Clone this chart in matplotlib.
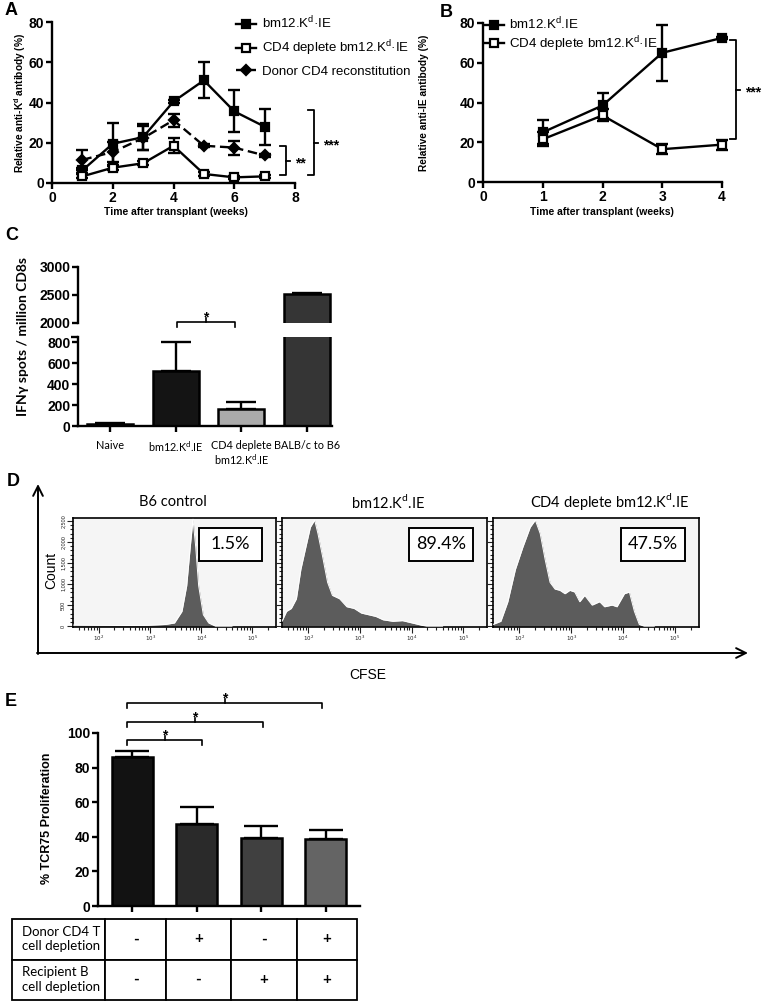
import matplotlib
matplotlib.use("Agg")
import matplotlib.pyplot as plt
from matplotlib.patches import Rectangle
from matplotlib.table import Table

plt.rcParams['font.family'] = ['Liberation Sans', 'DejaVu Sans']
plt.rcParams['axes.unicode_minus'] = False

W, H = 766, 1002
CAL = ['Lato', 'DejaVu Sans']      # stand-in for Calibri
KD = 'K$^\\mathregular{d}$'

# --- A: anti-Kd antibody over time ---
weeks_a = [1, 2, 3, 4, 5, 6, 7]
a_bm12 = [6.3, 19.5, 22.8, 40.5, 51.0, 35.6, 28.0]
a_bm12_err = [1.2, 10.5, 6.3, 0.8, 9.0, 10.5, 9.0]
a_cd4 = [3.3, 7.6, 9.8, 18.5, 4.5, 2.8, 3.3]
a_cd4_err = [1.0, 1.0, 1.0, 3.8, 0.8, 0.8, 0.8]
a_donor = [11.5, 15.4, 22.3, 31.2, 18.5, 17.6, 13.7]
a_donor_err = [5.0, 5.0, 6.0, 3.3, 0.8, 3.5, 0.8]

# --- B: anti-IE antibody over time ---
weeks_b = [1, 2, 3, 4]
b_bm12 = [25.0, 38.5, 65.0, 72.5]
b_bm12_err = [6.0, 6.5, 14.0, 0.5]
b_cd4 = [21.5, 33.5, 16.5, 18.8]
b_cd4_err = [3.5, 3.0, 2.5, 2.5]

# --- C: IFNg ELISpot ---
c_groups = ['Naive', f'bm12.{KD}.IE', f'CD4 deplete\nbm12.{KD}.IE', 'BALB/c to B6']
c_spots = [20, 530, 165, 2515]
c_err = [5, 270, 65, 15]
c_colors = ['#141414', '#141414', '#ababab', '#353535']

# --- D: CFSE histograms ---
d_titles = ['B6 control', f'bm12.{KD}.IE', f'CD4 deplete bm12.{KD}.IE']
d_percent = ['1.5%', '89.4%', '47.5%']
d1_cfse = [32, 100, 300, 900, 2000, 3000, 4200, 5200, 6100, 6900, 7800, 8900, 11000, 14000, 19000, 40000]
d1_count = [25, 20, 15, 20, 40, 75, 350, 960, 1880, 2540, 1880, 960, 270, 75, 0, 0]
d2_cfse = [31, 38, 47, 59, 72, 90, 110, 133, 154, 190, 237, 294, 405, 560, 775, 1070,
           1480, 2040, 2820, 4350, 6700, 10300, 15900, 19800, 40000]
d2_count = [115, 350, 420, 650, 1350, 1880, 2350, 2520, 2200, 1650, 1040, 730, 650, 460, 420, 310,
            270, 230, 150, 115, 130, 75, 20, 0, 0]
d3_cfse = [31, 44, 60, 84, 117, 162, 203, 252, 314, 390, 487, 606, 757, 940, 1170, 1460,
           1820, 2530, 3530, 4390, 6120, 7620, 10600, 13200, 16500, 20500, 25500, 40000]
d3_count = [40, 115, 580, 1350, 1880, 2350, 2520, 2200, 1580, 1040, 880, 850, 770, 850, 810, 580,
            730, 500, 580, 460, 500, 460, 770, 810, 350, 40, 0, 0]

# --- E: TCR75 proliferation ---
e_prolif = [86.0, 47.5, 39.5, 38.5]
e_err = [3.5, 9.5, 7.0, 5.5]
e_colors = ['#121212', '#2a2a2a', '#404040', '#646464']
e_rows = ['Donor CD4 T\ncell depletion', 'Recipient B\ncell depletion']
e_donor_cd4 = ['-', '+', '-', '+']
e_recip_b = ['-', '-', '+', '+']

fig = plt.figure(figsize=(W / 100, H / 100), dpi=100)


def px_axes(x0, y0, x1, y1, **kw):
    return fig.add_axes([x0 / W, 1 - y1 / H, (x1 - x0) / W, (y1 - y0) / H], **kw)


def prism(ax, fs=10):
    for s in ['top', 'right']:
        ax.spines[s].set_visible(False)
    for s in ['left', 'bottom']:
        ax.spines[s].set_linewidth(1.7)
    ax.tick_params(direction='out', width=1.7, length=4, labelsize=fs, pad=1.5)
    for t in ax.get_xticklabels() + ax.get_yticklabels():
        t.set_fontweight('bold')


# overlay in pixel coordinates for labels / brackets / arrows
ov = fig.add_axes([0, 0, 1, 1], zorder=5)
ov.set_xlim(0, W)
ov.set_ylim(H, 0)
ov.axis('off')


def vbracket(x, y0, y1, label, arm=6, tick=4, fs=10):
    ov.plot([x - arm, x, x, x - arm], [y0, y0, y1, y1], color='black', lw=1.3)
    ym = (y0 + y1) / 2
    ov.plot([x, x + tick], [ym, ym], color='black', lw=1.3)
    ov.text(x + tick + 5, ym + 3, label, ha='left', va='center', fontsize=fs, fontweight='bold')


def hbracket(x0, x1, y, label, drop=5, tick=4, fs=10):
    ov.plot([x0, x0, x1, x1], [y + drop, y, y, y + drop], color='black', lw=1.2)
    xm = (x0 + x1) / 2
    ov.plot([xm, xm], [y, y - tick], color='black', lw=1.2)
    ov.text(xm, y - tick - 1, label, ha='center', va='center', fontsize=fs, fontweight='bold')


for lab, x, y in [('A', 5, 10), ('B', 440, 12), ('C', 5, 235), ('D', 7, 482), ('E', 5, 702)]:
    ov.text(x, y, lab, fontsize=13, fontweight='bold', ha='left', va='center')

# ---------------- A ----------------
axA = px_axes(52, 22, 295, 183)
styles_a = [
    (a_bm12, a_bm12_err, dict(marker='s', mfc='black', ms=6, ls='-'), f'bm12.{KD}·IE'),
    (a_cd4, a_cd4_err, dict(marker='s', mfc='white', ms=6, ls='-'), f'CD4 deplete bm12.{KD}·IE'),
    (a_donor, a_donor_err, dict(marker='D', mfc='black', ms=5, ls=(0, (4, 2))), 'Donor CD4 reconstitution'),
]
for vals, err, st, lab in styles_a:
    axA.errorbar(weeks_a, vals, yerr=err, fmt='none', ecolor='black', elinewidth=1.7,
                 capsize=4, capthick=1.7, clip_on=False)
    axA.plot(weeks_a, vals, color='black', lw=1.7, mec='black', mew=1.6, label=lab, clip_on=False, **st)
axA.set_xlim(0, 8)
axA.set_ylim(0, 80)
axA.set_xticks([0, 2, 4, 6, 8])
axA.set_yticks([0, 20, 40, 60, 80])
prism(axA)
axA.legend(loc='upper left', bbox_to_anchor=(236 / W, 1 - 15 / H), bbox_transform=fig.transFigure,
           frameon=False, fontsize=9.5, handlelength=1.5, handletextpad=0.5, labelspacing=0.55,
           borderpad=0, borderaxespad=0)
ov.text(20, 103, f'Relative anti-{KD} antibody (%)', rotation=90, ha='center', va='center',
        fontsize=7.3, fontweight='bold')
ov.text(176, 212, 'Time after transplant (weeks)', ha='center', va='center', fontsize=7.5, fontweight='bold')
vbracket(286, 146, 175, '**')
vbracket(314, 110, 175, '***')

# ---------------- B ----------------
axB = px_axes(483, 23, 722, 182)
styles_b = [
    (b_bm12, b_bm12_err, dict(marker='s', mfc='black', ms=6), f'bm12.{KD}.IE'),
    (b_cd4, b_cd4_err, dict(marker='s', mfc='white', ms=6), f'CD4 deplete bm12.{KD}·IE'),
]
for vals, err, st, lab in styles_b:
    axB.errorbar(weeks_b, vals, yerr=err, fmt='none', ecolor='black', elinewidth=1.7,
                 capsize=4, capthick=1.7, clip_on=False)
    axB.plot(weeks_b, vals, color='black', lw=1.7, mec='black', mew=1.6, label=lab, clip_on=False, **st)
axB.set_xlim(0, 4)
axB.set_ylim(0, 80)
axB.set_xticks([0, 1, 2, 3, 4])
axB.set_yticks([0, 20, 40, 60, 80])
prism(axB)
axB.legend(loc='upper left', bbox_to_anchor=(484 / W, 1 - 16 / H), bbox_transform=fig.transFigure,
           frameon=False, fontsize=9.6, handlelength=1.5, handletextpad=0.4, labelspacing=0.1,
           borderpad=0, borderaxespad=0)
ov.text(424, 103, 'Relative anti-IE antibody (%)', rotation=90, ha='center', va='center',
        fontsize=7.3, fontweight='bold')
ov.text(602, 212, 'Time after transplant (weeks)', ha='center', va='center', fontsize=7.5, fontweight='bold')
vbracket(736, 40, 139, '***')

# ---------------- C (broken axis) ----------------
axC_lo = px_axes(78, 337, 332, 426)
axC_hi = px_axes(78, 267, 332, 323)
xc = list(range(len(c_groups)))
for ax in (axC_lo, axC_hi):
    ax.bar(xc, c_spots, width=0.7, color=c_colors, edgecolor='black', lw=1.8, zorder=2)
    ax.errorbar(xc, c_spots, yerr=[[0] * len(c_err), c_err], fmt='none', ecolor='black',
                elinewidth=1.7, capsize=11, capthick=1.7, zorder=1)
    ax.set_xlim(-0.49, 3.38)
axC_lo.set_ylim(0, 850)
axC_lo.set_yticks([0, 200, 400, 600, 800])
axC_lo.set_yticks([850], minor=True)
axC_lo.set_xticks(xc)
prism(axC_lo)
axC_lo.tick_params(axis='y', which='minor', direction='out', width=1.7, length=5)
axC_lo.set_xticklabels(c_groups, fontfamily=CAL, fontsize=7.8, fontweight='normal', linespacing=1.15)
axC_lo.tick_params(axis='x', pad=6)
axC_hi.set_ylim(2000, 3000)
axC_hi.set_yticks([2000, 2500, 3000])
axC_hi.set_xticks([])
prism(axC_hi)
axC_hi.spines['bottom'].set_visible(False)
ov.text(23, 337, 'IFNγ spots / million CD8s', rotation=90, ha='center', va='center',
        fontsize=10, fontweight='bold', family=CAL)
hbracket(177, 235, 322, '*')

# ---------------- D (CFSE histograms) ----------------
d_boxes = [(73, 276), (282, 487), (493, 699)]
d_title_x = [173, 388, 610]
d_data = [(d1_cfse, d1_count), (d2_cfse, d2_count), (d3_cfse, d3_count)]
for i, ((x0, x1), (cfse, cnt)) in enumerate(zip(d_boxes, d_data)):
    ax = px_axes(x0, 518, x1, 627)
    ax.set_facecolor('#f5f5f5')
    ax.fill_between(cfse, cnt, color='#5c5c5c', lw=0, zorder=2)
    ax.plot(cfse, cnt, color='white', lw=0.7, zorder=3)
    ax.set_xscale('log')
    ax.set_xlim(31, 290000)
    ax.set_ylim(-20, 2570)
    ax.set_xticks([1e2, 1e3, 1e4, 1e5], ['$10^2$', '$10^3$', '$10^4$', '$10^5$'])
    ax.set_yticks([0, 500, 1000, 1500, 2000, 2500])
    ax.set_yticks(range(0, 2600, 100), minor=True)
    if i == 0:
        ax.set_yticklabels(['0', '500', '1,000', '1,500', '2,000', '2,500'], rotation=90, va='center')
    else:
        ax.set_yticklabels([])
    ax.tick_params(which='both', direction='out', labelsize=4, colors='#222222', width=0.8, pad=1)
    ax.tick_params(which='major', length=4)
    ax.tick_params(which='minor', length=2)
    for s in ax.spines.values():
        s.set_linewidth(1.2)
    ax.add_patch(Rectangle((0.62, 0.61), 0.31, 0.30, transform=ax.transAxes, fc='white',
                           ec='black', lw=1.4, zorder=4))
    ax.text(0.775, 0.76, d_percent[i], transform=ax.transAxes, ha='center', va='center',
            fontsize=13, family=CAL, zorder=5)
    ov.text(d_title_x[i], 502, d_titles[i], ha='center', va='center', fontsize=10.5, family=CAL)

ov.annotate('', xy=(38, 484), xytext=(38, 654),
            arrowprops=dict(arrowstyle='->, head_length=0.7, head_width=0.35', lw=1.4, color='black',
                            shrinkA=0, shrinkB=0))
ov.annotate('', xy=(748, 653), xytext=(37, 653),
            arrowprops=dict(arrowstyle='->, head_length=0.7, head_width=0.35', lw=1.4, color='black',
                            shrinkA=0, shrinkB=0))
ov.text(51, 570, 'Count', rotation=90, ha='center', va='center', fontsize=10)
ov.text(368, 675, 'CFSE', ha='center', va='center', fontsize=10)

# ---------------- E ----------------
axE = px_axes(98, 733, 360, 906)
xe = list(range(len(e_prolif)))
axE.bar(xe, e_prolif, width=0.63, color=e_colors, edgecolor='black', lw=1.8, zorder=2)
axE.errorbar(xe, e_prolif, yerr=[[0] * len(e_err), e_err], fmt='none', ecolor='black',
             elinewidth=1.7, capsize=12, capthick=1.7, zorder=1)
axE.set_xlim(-0.53, 3.53)
axE.set_ylim(0, 100)
axE.set_yticks([0, 20, 40, 60, 80, 100])
axE.set_xticks(xe)
axE.set_xticklabels([])
prism(axE)
ov.text(47, 818, '% TCR75 Proliferation', rotation=90, ha='center', va='center',
        fontsize=9, fontweight='bold')
hbracket(127, 202, 740, '*')
hbracket(127, 263, 722, '*')
hbracket(127, 322, 703, '*')

axT = px_axes(12, 919, 357, 1000)
axT.axis('off')
tb = Table(axT, bbox=[0, 0, 1, 1])
col_w = [93, 61, 65, 66, 60]
for r, (lab, signs) in enumerate(zip(e_rows, [e_donor_cd4, e_recip_b])):
    tb.add_cell(r, 0, col_w[0], 1, text=lab, loc='left')
    for c, s in enumerate(signs):
        tb.add_cell(r, c + 1, col_w[c + 1], 1, text=s, loc='center')
tb.auto_set_font_size(False)
for (r, c), cell in tb.get_celld().items():
    cell.set_linewidth(1.3)
    txt = cell.get_text()
    txt.set_fontfamily(CAL)
    if c == 0:
        cell.PAD = 0.11
        txt.set_fontsize(9.5)
        txt.set_linespacing(1.25)
    else:
        txt.set_fontsize(11)
        txt.set_fontweight('bold')
axT.add_table(tb)

fig.savefig('out.png', dpi=100)
